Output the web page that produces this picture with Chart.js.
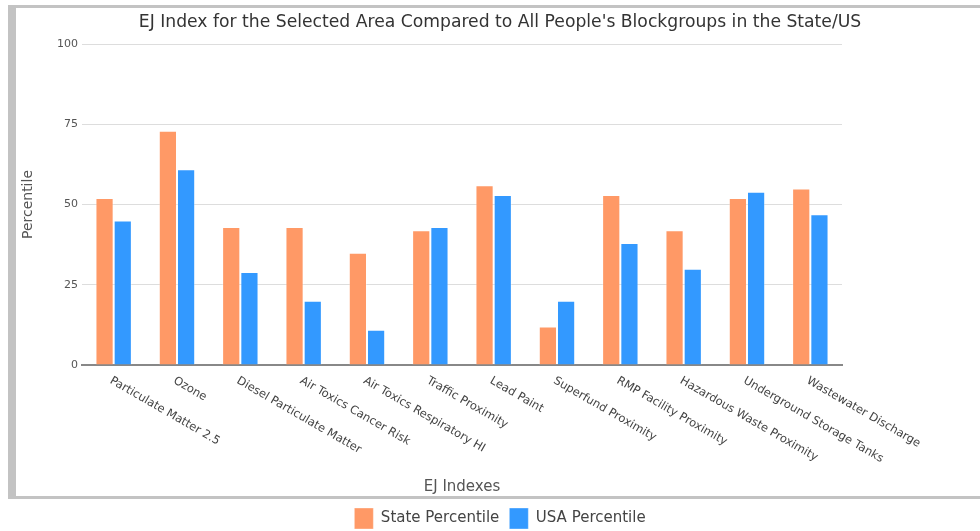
<!DOCTYPE html>
<html>
<head>
<meta charset="utf-8">
<script src="https://cdn.jsdelivr.net/npm/chart.js@4/dist/chart.umd.min.js"></script>
<style>
  html, body { margin: 0; padding: 0; width: 980px; height: 531px; overflow: hidden; background: #fff; }
  #frame { position: absolute; left: 8px; top: 5px; width: 1000px; height: 494px; box-sizing: border-box;
           border-left: 8px solid #c3c3c3; border-top: 3px solid #c3c3c3; border-bottom: 3px solid #c3c3c3; }
  #wrap { position: absolute; left: 0; top: 0; width: 1000px; height: 539px; }
</style>
</head>
<body>
<div id="frame"></div>
<div id="wrap"><canvas id="c"></canvas></div>
<script>
const categories = [
  'Particulate Matter 2.5', 'Ozone', 'Diesel Particulate Matter', 'Air Toxics Cancer Risk',
  'Air Toxics Respiratory HI', 'Traffic Proximity', 'Lead Paint', 'Superfund Proximity',
  'RMP Facility Proximity', 'Hazardous Waste Proximity', 'Underground Storage Tanks', 'Wastewater Discharge'
];
const statePercentile = [52, 73, 43, 43, 35, 42, 56, 12, 53, 42, 52, 55];
const usaPercentile   = [45, 61, 29, 20, 11, 43, 53, 20, 38, 30, 54, 47];
const yTicks = [0, 25, 50, 75, 100];
const chartTitle = "EJ Index for the Selected Area Compared to All People's Blockgroups in the State/US";
const xTitle = 'EJ Indexes';
const yTitle = 'Percentile';
const seriesNames = ['State Percentile', 'USA Percentile'];

const FONT = "'DejaVu Sans', Verdana, sans-serif";

const rotatedLabels = {
  id: 'rotatedLabels',
  afterDraw(chart) {
    const xs = chart.scales.x;
    const ctx = chart.ctx;
    ctx.save();
    ctx.font = '11.5px ' + FONT;
    ctx.fillStyle = '#444';
    ctx.textAlign = 'left';
    ctx.textBaseline = 'top';
    chart.data.labels.forEach((lab, i) => {
      const x = xs.getPixelForTick(i);
      const y = chart.chartArea.bottom + 10;
      ctx.save();
      ctx.translate(x, y);
      ctx.rotate(Math.PI / 6);
      ctx.fillText(lab, 0, 0);
      ctx.restore();
    });
    ctx.restore();
  }
};

new Chart(document.getElementById('c'), {
  type: 'bar',
  data: {
    labels: categories,
    datasets: [
      { label: seriesNames[0], data: statePercentile, backgroundColor: '#ff9966',
        borderColor: 'rgba(255,255,255,0.35)', borderWidth: 1,
        categoryPercentage: 0.575, barPercentage: 1.0 },
      { label: seriesNames[1], data: usaPercentile, backgroundColor: '#3399ff',
        borderColor: 'rgba(255,255,255,0.35)', borderWidth: 1,
        categoryPercentage: 0.575, barPercentage: 1.0 }
    ]
  },
  options: {
    responsive: true,
    maintainAspectRatio: false,
    animation: false,
    layout: { padding: 0 },
    plugins: {
      title: {
        display: true, text: chartTitle, color: '#333',
        font: { family: FONT, size: 17.2, weight: 'normal' },
        padding: { top: 12, bottom: 11.4 }
      },
      legend: {
        position: 'bottom',
        labels: {
          boxWidth: 19, boxHeight: 21, padding: 10, color: '#444',
          font: { family: FONT, size: 15 }
        }
      },
      tooltip: { enabled: false }
    },
    scales: {
      x: {
        type: 'category',
        grid: { display: false },
        border: { display: true, color: '#888', width: 2 },
        ticks: { display: false },
        title: {
          display: true, text: xTitle, color: '#555',
          font: { family: FONT, size: 15 },
          padding: { top: 0, bottom: 1.5 }
        },
        afterFit(s) { s.height = 133; }
      },
      y: {
        type: 'linear', position: 'left', min: 0, max: 100,
        afterBuildTicks(s) { s.ticks = yTicks.map(v => ({ value: v })); },
        grid: { color: '#dddddd', lineWidth: 1, drawTicks: false },
        border: { display: false },
        ticks: { padding: 4, color: '#555', font: { family: FONT, size: 11 } },
        title: {
          display: true, text: yTitle, color: '#555',
          font: { family: FONT, size: 14 },
          padding: { top: 19.6, bottom: 16.6 }
        }
      },
      y2: {
        type: 'linear', position: 'right', display: true,
        grid: { display: false }, border: { display: false },
        ticks: { display: false },
        afterFit(s) { s.width = 158; }
      }
    }
  },
  plugins: [rotatedLabels]
});
</script>
</body>
</html>
